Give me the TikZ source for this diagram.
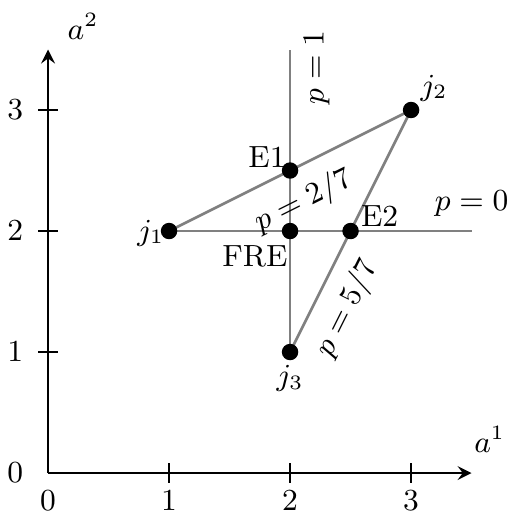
\documentclass[tikz,border=0pt]{standalone}
\usetikzlibrary{arrows}
\begin{document}
\begin{tikzpicture}[x=1.25cm,y=1.25cm,
  every node/.style={font=\small},
  axis/.style={thick,-stealth},
  tick/.style={thick},
  gline/.style={gray,thick},
  dot/.style={circle,fill=black,inner sep=0pt,minimum size=0.17cm},
  lbl/.style={inner sep=1pt}]
\useasboundingbox (-0.397,-0.355) rectangle (3.818,3.909);
% axes
\coordinate (O) at (0,0);
\coordinate (xend) at (3.5,0);
\coordinate (yend) at (0,3.5);
\draw[axis] (O) -- (xend);
\draw[axis] (O) -- (yend);
\foreach \i in {1,2,3}{
  \draw[tick] (\i,-0.08) -- (\i,0.08);
  \draw[tick] (-0.08,\i) -- (0.08,\i);
  \node[lbl] (xl\i) at (\i,-0.23) {$\i$};
  \node[lbl] (yl\i) at (-0.27,\i) {$\i$};
}
\node[lbl] (xl0) at (0,-0.23) {$0$};
\node[lbl] (yl0) at (-0.27,0) {$0$};
\node[lbl] (a1) at (3.65,0.28) {$a^1$};
\node[lbl] (a2) at (0.29,3.69) {$a^2$};
% points
\coordinate (j1c) at (1,2);
\coordinate (j2c) at (3,3);
\coordinate (j3c) at (2,1);
\coordinate (hend) at (3.5,2);
\coordinate (vend) at (2,3.5);
\draw[gline] (j1c) -- (hend);
\draw[gline] (j3c) -- (vend);
\draw[gline] (j1c) -- (j2c) -- (j3c);
\node[dot] (j1) at (j1c) {};
\node[dot] (j2) at (j2c) {};
\node[dot] (j3) at (j3c) {};
\node[dot] (E1) at (2,2.5) {};
\node[dot] (E2) at (2.5,2) {};
\node[dot] (FRE) at (2,2) {};
% labels
\node[lbl] (j1l) at (0.85,1.98) {$j_1$};
\node[lbl] (j2l) at (3.19,3.18) {$j_2$};
\node[lbl] (j3l) at (2.0,0.78) {$j_3$};
\node[lbl] (E1l) at (1.81,2.61) {E1};
\node[lbl] (E2l) at (2.74,2.12) {E2};
\node[lbl] (FREl) at (1.71,1.79) {FRE};
\node[lbl] (p0) at (3.5,2.23) {$p=0$};
\node[lbl,rotate=90] (p1) at (2.22,3.35) {$p=1$};
\node[lbl,rotate=26.57] (p27) at (2.11,2.25) {$p=2/7$};
\node[lbl,rotate=63.43] (p57) at (2.47,1.36) {$p=5/7$};
\end{tikzpicture}
\end{document}
